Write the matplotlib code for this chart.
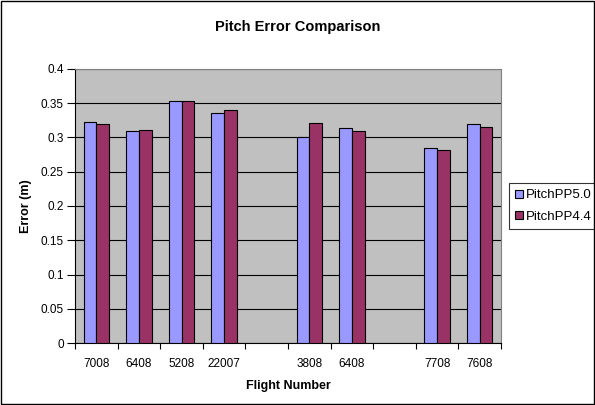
import numpy as np
import matplotlib.pyplot as plt
from matplotlib.patches import Rectangle

plt.rcParams.update({
    "font.family": ["Liberation Sans", "DejaVu Sans"],
    "font.size": 8.5,
})

# flight numbers (blank slots separate the groups of flights)
flights = ["7008", "6408", "5208", "22007", "", "3808", "6408", "", "7708", "7608"]
pp50 = [0.323, 0.310, 0.354, 0.336, np.nan, 0.300, 0.3135, np.nan, 0.284, 0.319]
pp44 = [0.320, 0.3115, 0.353, 0.340, np.nan, 0.321, 0.3095, np.nan, 0.282, 0.315]

fig = plt.figure(figsize=(5.95, 4.05), dpi=100)
ax = fig.add_axes([75/595, 1 - 343/405, (501-75)/595, (343-69)/405])

x = np.arange(len(flights))
w = 0.3
ax.bar(x - w/2, pp50, w, color="#9999FF", edgecolor="black", linewidth=0.8,
       label="PitchPP5.0", zorder=3)
ax.bar(x + w/2, pp44, w, color="#993366", edgecolor="black", linewidth=0.8,
       label="PitchPP4.4", zorder=3)

ax.set_facecolor("#C0C0C0")
ax.set_xlim(-0.5, len(flights) - 0.5)
ax.set_ylim(0, 0.4)
ax.set_yticks(np.arange(0, 0.41, 0.05))
ax.set_yticklabels(["0", "0.05", "0.1", "0.15", "0.2", "0.25", "0.3", "0.35", "0.4"])
ax.yaxis.grid(True, color="black", linewidth=0.8, zorder=1)
ax.set_axisbelow(True)

# category labels centred, tick marks between categories
ax.set_xticks(x)
ax.set_xticklabels(flights)
ax.tick_params(axis="x", length=0, pad=11)
ax.set_xticks(np.arange(-0.5, len(flights), 1), minor=True)
ax.tick_params(axis="x", which="minor", length=4, direction="out", width=0.8)
ax.tick_params(axis="y", length=6, direction="out", width=0.8, pad=2)

for side in ["top", "right"]:
    ax.spines[side].set_color("#808080")
    ax.spines[side].set_linewidth(0.8)
for side in ["left", "bottom"]:
    ax.spines[side].set_color("black")
    ax.spines[side].set_linewidth(0.8)

ax.set_xlabel("Flight Number", fontweight="bold", fontsize=9, labelpad=7)
ax.set_ylabel("Error (m)", fontweight="bold", fontsize=9, labelpad=6)
fig.text(0.5, 1 - 27/405, "Pitch Error Comparison", ha="center", va="center",
         fontweight="bold", fontsize=10.5)

leg = ax.legend(loc="center left", bbox_to_anchor=(509/595, 1 - 206/405),
                bbox_transform=fig.transFigure, frameon=True, fancybox=False,
                edgecolor="black", handlelength=0.6, handleheight=0.6,
                handletextpad=0.25, borderpad=0.45, labelspacing=0.7,
                borderaxespad=0, fontsize=9.5)
leg.get_frame().set_linewidth(0.8)

# outer border of the chart
fig.patches.append(Rectangle((0.002, 0.002), 0.996, 0.996, transform=fig.transFigure,
                             fill=False, edgecolor="black", linewidth=1))

fig.savefig("out.png", dpi=100)
